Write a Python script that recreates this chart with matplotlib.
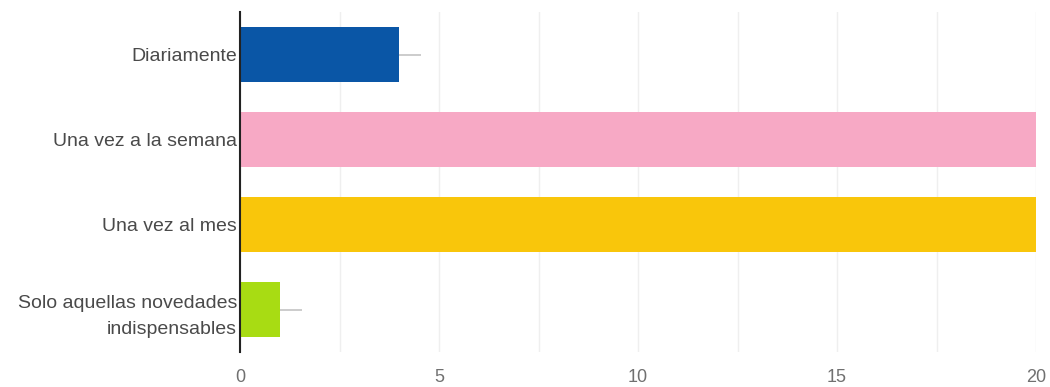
import numpy as np
import matplotlib
matplotlib.use('Agg')
import matplotlib.pyplot as plt
from matplotlib.ticker import MultipleLocator

# survey answers: how often people want updates
categories = ['Diariamente', 'Una vez a la semana', 'Una vez al mes',
              'Solo aquellas novedades\nindispensables']
counts = [4, 20, 20, 1]
errors = [0.55, 0.55, 0.55, 0.55]
colors = ['#0a56a6', '#f7a9c5', '#f9c60b', '#a8dc13']
xticks = [0, 5, 10, 15, 20]

plt.rcParams['font.family'] = ['Liberation Sans', 'DejaVu Sans']

fig = plt.figure(figsize=(10.5, 3.87), dpi=100)
ax = fig.add_axes([240 / 1050, 1 - 352 / 387, (1036 - 240) / 1050,
                   (352 - 12) / 387])

ypos = np.arange(len(categories))
# error lines sit under the bars so only the right half shows
ax.errorbar(counts, ypos, xerr=errors, fmt='none', ecolor='#c4c4c4',
            elinewidth=1.2, capsize=0, zorder=1)
ax.barh(ypos, counts, height=0.64, color=colors, zorder=2)

ax.set_xlim(0, 20)
ax.set_ylim(len(categories) - 0.5, -0.5)
ax.set_xticks(xticks)
ax.set_xticklabels([str(t) for t in xticks])
ax.xaxis.set_minor_locator(MultipleLocator(2.5))
ax.set_yticks(ypos)
ax.set_yticklabels(categories, fontsize=14, color='#4a4a4a',
                   linespacing=1.75)

ax.grid(axis='x', which='both', color='#efefef', linewidth=1, zorder=0)
ax.set_axisbelow(True)

for side in ['top', 'right', 'bottom']:
    ax.spines[side].set_visible(False)
ax.spines['left'].set_color('#222222')
ax.spines['left'].set_linewidth(1.5)
ax.spines['left'].set_zorder(3)

ax.tick_params(axis='y', length=0, pad=2)
ax.tick_params(axis='x', which='both', length=0, pad=12, labelsize=13,
               labelcolor='#707070')

fig.savefig('out.png', dpi=100, facecolor='white')
